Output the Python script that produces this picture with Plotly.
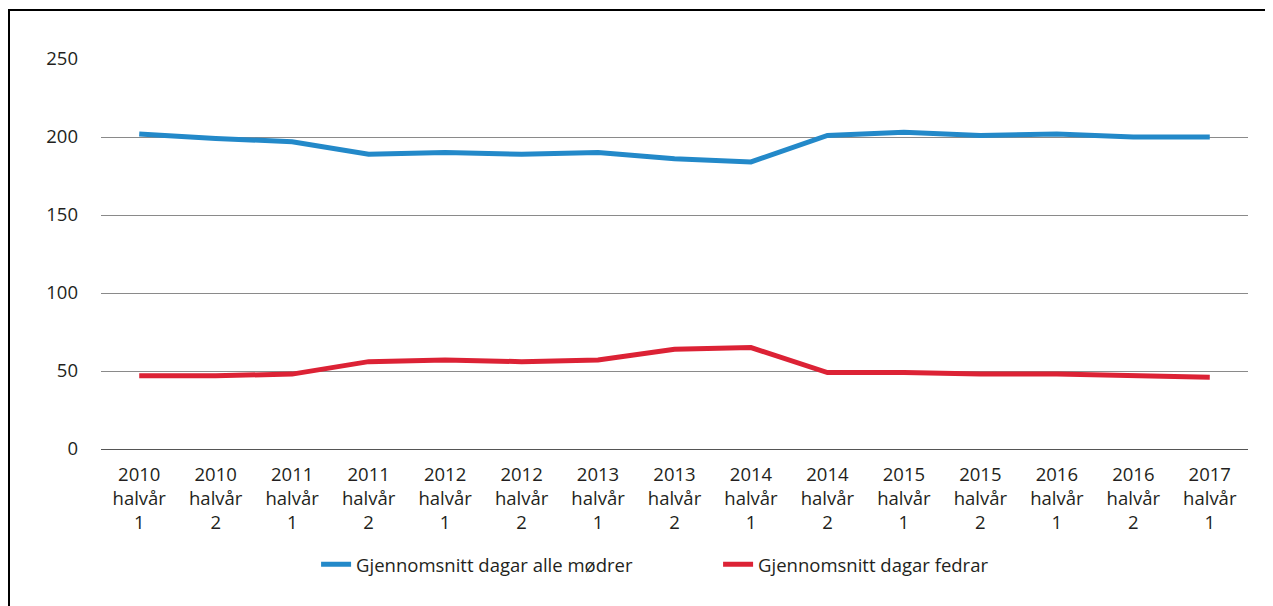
import plotly.graph_objects as go

categories = ["2010<br>halvår<br>1", "2010<br>halvår<br>2", "2011<br>halvår<br>1", "2011<br>halvår<br>2",
              "2012<br>halvår<br>1", "2012<br>halvår<br>2", "2013<br>halvår<br>1", "2013<br>halvår<br>2",
              "2014<br>halvår<br>1", "2014<br>halvår<br>2", "2015<br>halvår<br>1", "2015<br>halvår<br>2",
              "2016<br>halvår<br>1", "2016<br>halvår<br>2", "2017<br>halvår<br>1"]
modrer = [202, 199, 197, 189, 190, 189, 190, 186, 184, 201, 203, 201, 202, 200, 200]
fedrar = [47, 47, 48, 56, 57, 56, 57, 64, 65, 49, 49, 48, 48, 47, 46]
name_modrer = "Gjennomsnitt dagar alle mødrer"
name_fedrar = "Gjennomsnitt dagar fedrar"
y_ticks = [0, 50, 100, 150, 200, 250]

fig = go.Figure()
fig.add_trace(go.Scatter(x=categories, y=modrer, mode="lines", name=name_modrer,
                         line=dict(color="#2389c9", width=5)))
fig.add_trace(go.Scatter(x=categories, y=fedrar, mode="lines", name=name_fedrar,
                         line=dict(color="#dc2235", width=5)))

font_family = "'Open Sans', 'Noto Sans', sans-serif"
W, H = 1265, 598
L, R, T, B = 93, 25, 51, 157
pw, ph = W - L - R, H - T - B
fig.update_layout(
    width=W, height=H,
    margin=dict(l=L, r=R, t=T, b=B),
    paper_bgcolor="white", plot_bgcolor="white",
    font=dict(family=font_family, size=18.5, color="#231f20"),
    showlegend=True,
    legend=dict(orientation="h", x=0.538, xanchor="center", y=-0.297, yanchor="middle",
                font=dict(size=18.5), entrywidth=357, traceorder="normal"),
    xaxis=dict(type="category", range=[-0.5, 14.5], showgrid=False, zeroline=False,
               showline=False, ticks="outside", ticklen=9, tickcolor="rgba(0,0,0,0)",
               tickfont=dict(size=18.5)),
    yaxis=dict(range=[0, 250], tickvals=y_ticks, showgrid=True, gridcolor="#8a8a8a",
               gridwidth=1, zeroline=True, zerolinecolor="#555555", zerolinewidth=1,
               showline=False, ticklabelstandoff=22, tickfont=dict(size=18.5)),
)
fig.add_shape(type="rect", xref="paper", yref="paper",
              x0=(1 - L) / pw, x1=1.2, y0=-0.6, y1=1 + (T - 2) / ph,
              line=dict(color="black", width=2), fillcolor="rgba(0,0,0,0)", layer="above")
fig.write_html("out.html")
